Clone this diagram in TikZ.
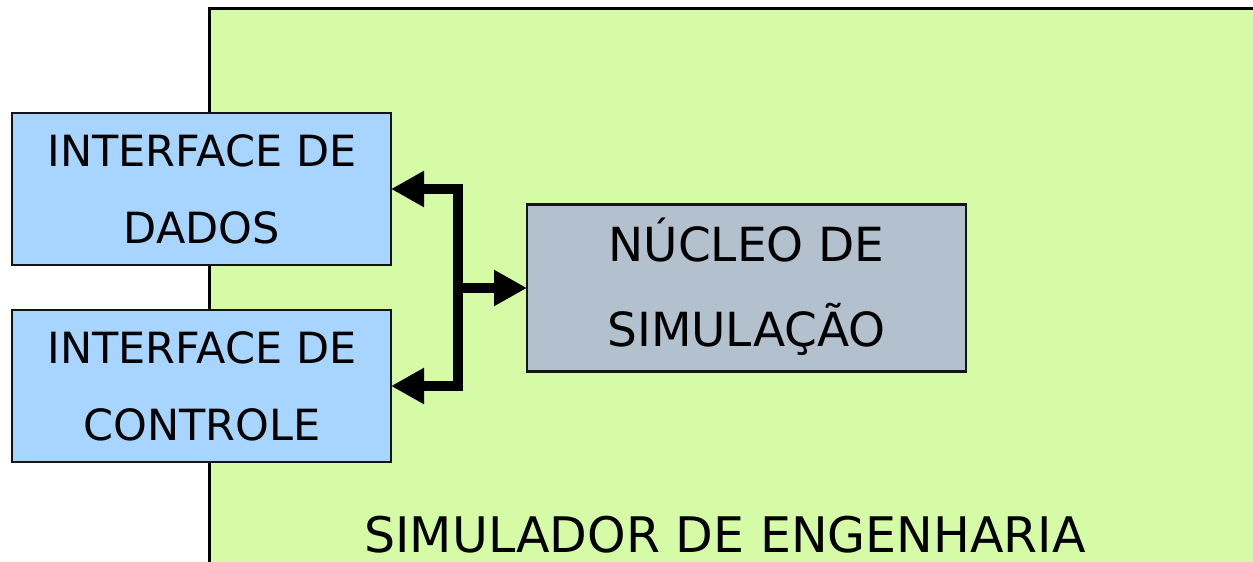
\documentclass[tikz,border=0pt]{standalone}
\usepackage{fontspec}
\setmainfont{DejaVu Sans}
\usetikzlibrary{arrows.meta}
\definecolor{simgreen}{RGB}{213,251,167}
\definecolor{ifblue}{RGB}{168,213,255}
\definecolor{coregray}{RGB}{179,192,206}
\definecolor{edge}{RGB}{20,20,20}
\tikzset{
  block/.style={draw=edge, line width=2.5pt, rectangle, inner sep=0pt, outer sep=0pt},
  iface/.style={block, fill=ifblue, minimum width=379pt, minimum height=152pt},
  core/.style={block, fill=coregray, minimum width=439pt, minimum height=167pt},
  label/.style={anchor=base, inner sep=0pt},
  bus/.style={line width=10.5pt, line join=miter, -{Triangle[length=33pt,width=34pt]}}
}
\begin{document}
\begin{tikzpicture}[x=1pt, y=-1pt]
  \useasboundingbox (0,0) rectangle (1253,562);
  \clip (0,0) rectangle (1253,562);
  % engineering simulator frame (runs past the right and bottom edges)
  \draw[fill=simgreen, draw=black, line width=3pt] (209,8) rectangle (1275,590);
  \node[label, font=\fontsize{49}{58}\selectfont] (simlabel) at (725,552) {SIMULADOR DE ENGENHARIA};

  % interface blocks
  \node[iface] (dados) at (201.5,189) {};
  \node[label, font=\fontsize{43}{52}\selectfont] (dados1) at (202,166) {INTERFACE DE};
  \node[label, font=\fontsize{43}{52}\selectfont] (dados2) at (202,243) {DADOS};

  \node[iface] (ctrl) at (201.5,386) {};
  \node[label, font=\fontsize{43}{52}\selectfont] (ctrl1) at (202,363) {INTERFACE DE};
  \node[label, font=\fontsize{43}{52}\selectfont] (ctrl2) at (202,440) {CONTROLE};

  % simulation core
  \node[core] (nucleo) at (746.5,288) {};
  \node[label, font=\fontsize{47}{56}\selectfont] (nucleo1) at (746.5,261) {NÚCLEO DE};
  \node[label, font=\fontsize{47}{56}\selectfont] (nucleo2) at (746.5,346) {SIMULAÇÃO};

  % data bus
  \coordinate (j) at (458,288);
  \draw[bus] (j) |- (dados.east);
  \draw[bus] (j) |- (ctrl.east);
  \draw[bus] (453,288) -- (nucleo.west);
\end{tikzpicture}
\end{document}
